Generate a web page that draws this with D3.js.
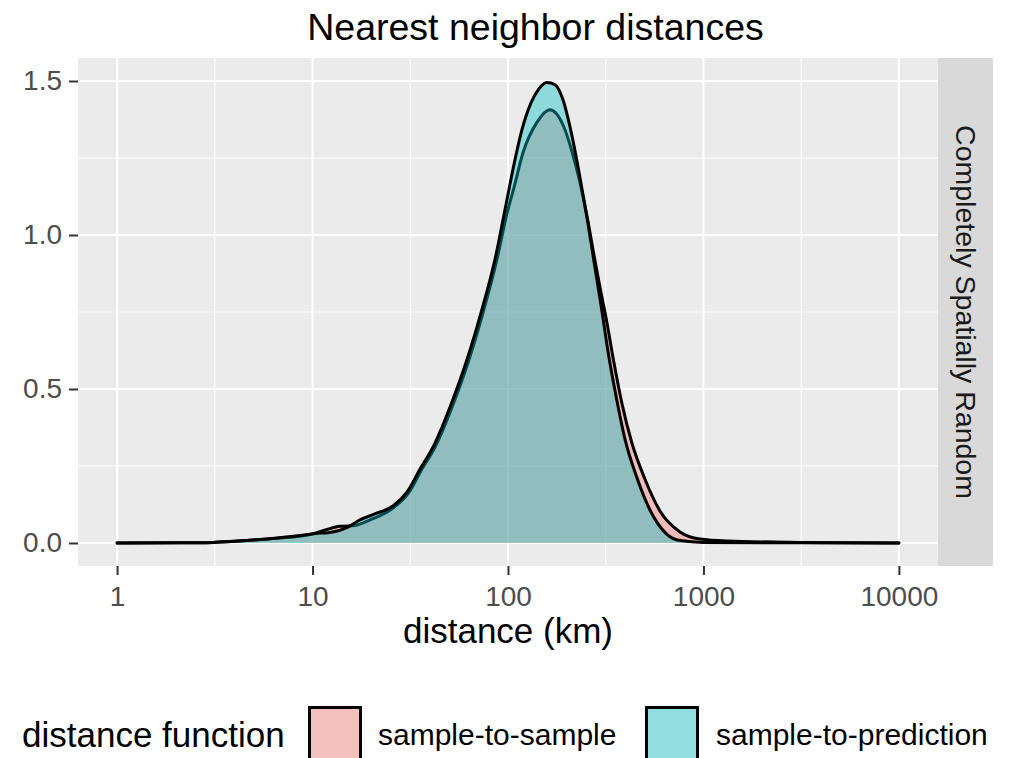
<!DOCTYPE html>
<html>
<head>
<meta charset="utf-8">
<script src="https://cdn.jsdelivr.net/npm/d3@7"></script>
<style>
  body { margin: 0; background: #fff; }
  svg text { font-family: "Liberation Sans", Arial, sans-serif; }
</style>
</head>
<body>
<script>
// values: [distance km, density]
var seriesNames = ["sample-to-sample", "sample-to-prediction"];
var seriesColors = ["#F8766D", "#00BFC4"];

var sampleToSample = [
  [1, 0], [2.1, 0.0005], [3.1, 0.002], [4.6, 0.008], [6.8, 0.016], [8.6, 0.022],
  [10.1, 0.03], [11.6, 0.042], [13.8, 0.054], [16.5, 0.057], [19.7, 0.075],
  [25.8, 0.113], [31.2, 0.165], [36.3, 0.24], [42.3, 0.311], [53.6, 0.467],
  [63.2, 0.596], [73.6, 0.736], [87.8, 0.921], [98.8, 1.07], [107.3, 1.154],
  [119.3, 1.267], [140.3, 1.365], [164, 1.407], [191.1, 1.358], [212.5, 1.271],
  [233.6, 1.17], [256.6, 1.044], [275.4, 0.934], [295.5, 0.83], [319.8, 0.72],
  [344.4, 0.603], [381.6, 0.457], [429.3, 0.327], [502.2, 0.207], [599, 0.104],
  [758.4, 0.036], [959.6, 0.013], [1319, 0.0065], [3116, 0.002], [10000, 0]
];

var sampleToPrediction = [
  [1, 0], [2.1, 0.0005], [3.1, 0.002], [4.6, 0.008], [6.8, 0.017], [8.6, 0.024],
  [10.1, 0.03], [12.7, 0.036], [15, 0.05], [17.5, 0.075], [21, 0.095],
  [25.8, 0.12], [30.4, 0.165], [35.5, 0.24], [41.3, 0.311], [52.3, 0.467],
  [61.7, 0.596], [71.9, 0.736], [85.8, 0.921], [97.7, 1.099], [107.3, 1.229],
  [117.9, 1.342], [131.1, 1.429], [144.1, 1.475], [158.3, 1.495], [174, 1.488],
  [191.1, 1.439], [211.8, 1.326], [233.6, 1.186], [256.6, 1.037], [275.4, 0.914],
  [301.6, 0.758], [324.8, 0.622], [359.7, 0.467], [396.8, 0.337], [455.4, 0.214],
  [532.5, 0.107], [648.2, 0.029], [758.4, 0.008], [1000, 0.002], [3100, 0.0005],
  [10000, 0]
];

var xTicks = [1, 10, 100, 1000, 10000];
var xMinor = [Math.pow(10, 0.5), Math.pow(10, 1.5), Math.pow(10, 2.5), Math.pow(10, 3.5)];
var yTicks = [0, 0.5, 1.0, 1.5];
var yMinor = [0.25, 0.75, 1.25];

var titleText = "Nearest neighbor distances";
var xTitle = "distance (km)";
var stripText = "Completely Spatially Random";
var legendTitle = "distance function";

// panel box
var panel = {left: 78, right: 938, top: 58, bottom: 566};
var stripW = 55;

var svg = d3.select("body").append("svg")
    .attr("width", 1009)
    .attr("height", 758);

svg.append("rect").attr("width", 1009).attr("height", 758).attr("fill", "#fff");

// log x with ggplot style 5% expansion
var x = d3.scaleLog()
    .domain([Math.pow(10, -0.2), Math.pow(10, 4.2)])
    .range([panel.left, panel.right]);

var y = d3.scaleLinear()
    .domain([-0.0747, 1.5747])
    .range([panel.bottom, panel.top]);

// panel background
svg.append("rect")
    .attr("x", panel.left).attr("y", panel.top)
    .attr("width", panel.right - panel.left)
    .attr("height", panel.bottom - panel.top)
    .attr("fill", "#EBEBEB");

// grid
var grid = svg.append("g");
grid.selectAll(".xminor").data(xMinor).enter().append("line")
    .attr("x1", function(d) { return x(d); }).attr("x2", function(d) { return x(d); })
    .attr("y1", panel.top).attr("y2", panel.bottom)
    .attr("stroke", "#fff").attr("stroke-width", 1.1);
grid.selectAll(".yminor").data(yMinor).enter().append("line")
    .attr("y1", function(d) { return y(d); }).attr("y2", function(d) { return y(d); })
    .attr("x1", panel.left).attr("x2", panel.right)
    .attr("stroke", "#fff").attr("stroke-width", 1.1);
grid.selectAll(".xmajor").data(xTicks).enter().append("line")
    .attr("x1", function(d) { return x(d); }).attr("x2", function(d) { return x(d); })
    .attr("y1", panel.top).attr("y2", panel.bottom)
    .attr("stroke", "#fff").attr("stroke-width", 2.2);
grid.selectAll(".ymajor").data(yTicks).enter().append("line")
    .attr("y1", function(d) { return y(d); }).attr("y2", function(d) { return y(d); })
    .attr("x1", panel.left).attr("x2", panel.right)
    .attr("stroke", "#fff").attr("stroke-width", 2.2);

// densities
var area = d3.area()
    .x(function(d) { return x(d[0]); })
    .y0(y(0))
    .y1(function(d) { return y(d[1]); })
    .curve(d3.curveMonotoneX);

var line = d3.line()
    .x(function(d) { return x(d[0]); })
    .y(function(d) { return y(d[1]); })
    .curve(d3.curveMonotoneX);

var series = [sampleToSample, sampleToPrediction];
series.forEach(function(s, i) {
    svg.append("path")
        .datum(s)
        .attr("d", area)
        .attr("fill", seriesColors[i])
        .attr("fill-opacity", 0.4);
    svg.append("path")
        .datum(s)
        .attr("d", line)
        .attr("fill", "none")
        .attr("stroke", "#000")
        .attr("stroke-width", 3)
        .attr("stroke-linejoin", "round")
        .attr("stroke-linecap", "round");
});

// axes
var xAxis = svg.append("g")
    .attr("transform", "translate(0," + panel.bottom + ")")
    .call(d3.axisBottom(x).tickValues(xTicks).tickFormat(d3.format("d")).tickSize(9).tickPadding(6));
var yAxis = svg.append("g")
    .attr("transform", "translate(" + panel.left + ",0)")
    .call(d3.axisLeft(y).tickValues(yTicks).tickFormat(d3.format(".1f")).tickSize(9).tickPadding(7));

[xAxis, yAxis].forEach(function(g) {
    g.select(".domain").remove();
    g.selectAll(".tick line").attr("stroke", "#333").attr("stroke-width", 2);
    g.selectAll(".tick text")
        .attr("fill", "#4D4D4D")
        .style("font-size", "28px");
});
xAxis.selectAll(".tick text").attr("dy", "0.9em");

// strip on the right
svg.append("rect")
    .attr("x", panel.right).attr("y", panel.top)
    .attr("width", stripW).attr("height", panel.bottom - panel.top)
    .attr("fill", "#D9D9D9");
svg.append("text")
    .attr("transform", "translate(" + (panel.right + stripW / 2) + "," + ((panel.top + panel.bottom) / 2) + ") rotate(90)")
    .attr("text-anchor", "middle")
    .attr("dy", "0.35em")
    .attr("fill", "#1A1A1A")
    .style("font-size", "28.5px")
    .text(stripText);

// titles
svg.append("text")
    .attr("x", (panel.left + panel.right + stripW) / 2)
    .attr("y", 40)
    .attr("text-anchor", "middle")
    .style("font-size", "37.5px")
    .text(titleText);

svg.append("text")
    .attr("x", (panel.left + panel.right) / 2)
    .attr("y", 643)
    .attr("text-anchor", "middle")
    .style("font-size", "35px")
    .text(xTitle);

// legend
var legend = svg.append("g");
legend.append("text")
    .attr("x", 22).attr("y", 747)
    .style("font-size", "35px")
    .text(legendTitle);

var keyX = [308, 645];
var labelX = [378, 716];
seriesNames.forEach(function(name, i) {
    legend.append("rect")
        .attr("x", keyX[i]).attr("y", 706)
        .attr("width", 54).attr("height", 64)
        .attr("fill", "#F2F2F2");
    legend.append("rect")
        .attr("x", keyX[i] + 1.5).attr("y", 707.5)
        .attr("width", 51).attr("height", 64)
        .attr("fill", seriesColors[i])
        .attr("fill-opacity", 0.4)
        .attr("stroke", "#000")
        .attr("stroke-width", 3);
    legend.append("text")
        .attr("x", labelX[i]).attr("y", 745)
        .style("font-size", "30px")
        .text(name);
});
</script>
</body>
</html>
